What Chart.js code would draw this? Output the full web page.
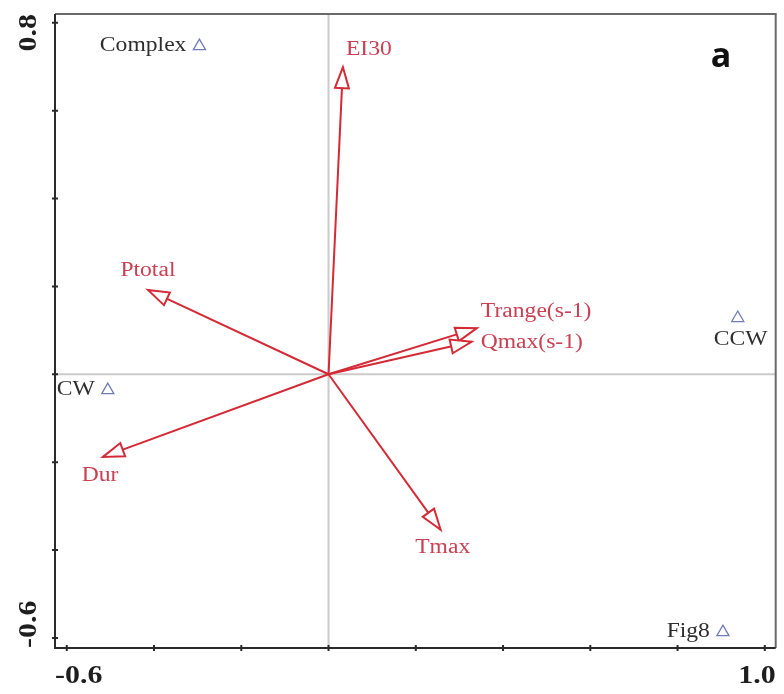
<!DOCTYPE html>
<html>
<head>
<meta charset="utf-8">
<script src="https://cdn.jsdelivr.net/npm/chart.js@4/dist/chart.umd.min.js"></script>
<style>
  html, body { margin: 0; padding: 0; background: #fff; }
  #wrap { width: 784px; height: 694px; position: relative; }
</style>
</head>
<body>
<div id="wrap"><canvas id="biplot"></canvas></div>
<script>
// Environmental variables (arrows)
const varNames = ['EI30', 'Ptotal', 'Trange(s-1)', 'Qmax(s-1)', 'Dur', 'Tmax'];
const varX = [0.033, -0.414, 0.340, 0.328, -0.517, 0.257];
const varY = [0.699, 0.192, 0.105, 0.074, -0.188, -0.354];

// Sample points (triangles)
const siteNames = ['Complex', 'CW', 'CCW', 'Fig8'];
const siteX = [-0.296, -0.506, 0.938, 0.904];
const siteY = [0.747, -0.036, 0.128, -0.587];

// Axis ticks
const xTicks = [-0.6, -0.4, -0.2, 0, 0.2, 0.4, 0.6, 0.8, 1.0];
const xTickLabels = ['-0.6', '', '', '', '', '', '', '', '1.0'];
const yTicks = [-0.6, -0.4, -0.2, 0, 0.2, 0.4, 0.6, 0.8];
const yTickLabels = ['-0.6', '', '', '', '', '', '', '0.8'];

const panelLetter = 'a';

// label placement relative to the marker (pixels) - layout only
const varLabelPos = [
    { dx: 3, dy: -17, align: 'left' },
    { dx: 0, dy: -19, align: 'center' },
    { dx: 4, dy: -16, align: 'left' },
    { dx: 9, dy: 1, align: 'left' },
    { dx: -3, dy: 19, align: 'center' },
    { dx: 2, dy: 18, align: 'center' }
];
const siteLabelPos = [
    { dx: -13, dy: 0, align: 'right' },
    { dx: -13, dy: 0, align: 'right' },
    { dx: 3, dy: 22, align: 'center' },
    { dx: -13, dy: 0, align: 'right' }
];

const ARROW = '#d42a36';
const VARTEXT = '#c94153';
const SITE = '#6f7cb4';
const SERIF = '"Liberation Serif", "DejaVu Serif", serif';
const STRETCH = 1.18;

function drawText(ctx, text, x, y, align, stretch, rot) {
    ctx.save();
    ctx.translate(x, y);
    if (rot) ctx.rotate(rot);
    ctx.scale(stretch, 1);
    ctx.textAlign = align;
    ctx.textBaseline = 'middle';
    ctx.fillText(text, 0, 0);
    ctx.restore();
}

const datasets = [];
varNames.forEach((name, i) => {
    datasets.push({
        label: name,
        data: [{ x: 0, y: 0 }, { x: varX[i], y: varY[i] }],
        showLine: true,
        borderColor: ARROW,
        borderWidth: 2,
        pointRadius: 0,
        fill: false
    });
});
datasets.push({
    label: 'sites',
    data: siteX.map((x, i) => ({ x: x, y: siteY[i] })),
    showLine: false,
    pointStyle: 'triangle',
    pointRadius: 7,
    borderWidth: 1.3,
    borderColor: SITE,
    backgroundColor: '#fff'
});

const biplotPlugin = {
    id: 'biplot',
    beforeDatasetsDraw(chart) {
        const ctx = chart.ctx;
        const a = chart.chartArea;
        const xs = chart.scales.x, ys = chart.scales.y;
        const x0 = xs.getPixelForValue(0), y0 = ys.getPixelForValue(0);
        ctx.save();
        ctx.strokeStyle = '#cbcbcb';
        ctx.lineWidth = 2;
        ctx.beginPath();
        ctx.moveTo(x0, a.top); ctx.lineTo(x0, a.bottom);
        ctx.moveTo(a.left, y0); ctx.lineTo(a.right, y0);
        ctx.stroke();
        ctx.restore();
    },
    afterDatasetsDraw(chart) {
        const ctx = chart.ctx;
        const xs = chart.scales.x, ys = chart.scales.y;
        const ox = xs.getPixelForValue(0), oy = ys.getPixelForValue(0);

        // arrow heads + variable labels
        varNames.forEach((name, i) => {
            const tx = xs.getPixelForValue(varX[i]);
            const ty = ys.getPixelForValue(varY[i]);
            const len = Math.hypot(tx - ox, ty - oy);
            const ux = (tx - ox) / len, uy = (ty - oy) / len;
            const L = 21, W = 7;
            const bx = tx - ux * L, by = ty - uy * L;
            ctx.save();
            ctx.beginPath();
            ctx.moveTo(tx, ty);
            ctx.lineTo(bx - uy * W, by + ux * W);
            ctx.lineTo(bx + uy * W, by - ux * W);
            ctx.closePath();
            ctx.fillStyle = '#fff';
            ctx.fill();
            ctx.strokeStyle = ARROW;
            ctx.lineWidth = 2;
            ctx.lineJoin = 'miter';
            ctx.stroke();
            ctx.fillStyle = VARTEXT;
            ctx.font = '20px ' + SERIF;
            const p = varLabelPos[i];
            drawText(ctx, name, tx + p.dx, ty + p.dy, p.align, STRETCH);
            ctx.restore();
        });

        // site labels
        siteNames.forEach((name, i) => {
            const px = xs.getPixelForValue(siteX[i]);
            const py = ys.getPixelForValue(siteY[i]);
            const p = siteLabelPos[i];
            ctx.save();
            ctx.fillStyle = '#2e2e2e';
            ctx.font = '20px ' + SERIF;
            drawText(ctx, name, px + p.dx, py + p.dy, p.align, STRETCH);
            ctx.restore();
        });
    },
    afterDraw(chart) {
        const ctx = chart.ctx;
        const a = chart.chartArea;
        const xs = chart.scales.x, ys = chart.scales.y;
        ctx.save();
        // frame
        ctx.lineWidth = 2;
        ctx.strokeStyle = '#6a6a6a';
        ctx.beginPath();
        ctx.moveTo(a.left, a.top); ctx.lineTo(a.right, a.top); ctx.lineTo(a.right, a.bottom);
        ctx.stroke();
        ctx.strokeStyle = '#2a2a2a';
        ctx.beginPath();
        ctx.moveTo(a.left, a.top); ctx.lineTo(a.left, a.bottom); ctx.lineTo(a.right, a.bottom);
        ctx.stroke();

        // tick marks
        ctx.lineWidth = 2;
        ctx.beginPath();
        xTicks.forEach(v => {
            const px = xs.getPixelForValue(v);
            ctx.moveTo(px, a.bottom - 3); ctx.lineTo(px, a.bottom + 3);
        });
        yTicks.forEach(v => {
            const py = ys.getPixelForValue(v);
            ctx.moveTo(a.left - 3, py); ctx.lineTo(a.left + 3, py);
        });
        ctx.stroke();

        // tick labels (kept inside the frame span)
        ctx.fillStyle = '#1e1e1e';
        ctx.font = 'bold 26px ' + SERIF;
        const TS = 1.15;
        xTicks.forEach((v, i) => {
            const t = xTickLabels[i];
            if (!t) return;
            const w = ctx.measureText(t).width * TS;
            let cx = xs.getPixelForValue(v);
            cx = Math.max(a.left + w / 2, Math.min(a.right - w / 2, cx));
            drawText(ctx, t, cx, a.bottom + 28, 'center', TS);
        });
        yTicks.forEach((v, i) => {
            const t = yTickLabels[i];
            if (!t) return;
            const w = ctx.measureText(t).width * TS;
            let cy = ys.getPixelForValue(v);
            cy = Math.max(a.top + w / 2, Math.min(a.bottom - w / 2, cy));
            drawText(ctx, t, a.left - 26, cy, 'center', TS, -Math.PI / 2);
        });

        // panel letter
        ctx.fillStyle = '#111';
        ctx.font = 'bold 34px "Open Sans", "DejaVu Sans", sans-serif';
        ctx.textAlign = 'center';
        ctx.textBaseline = 'middle';
        ctx.fillText(panelLetter, 721, 57);
        ctx.restore();
    }
};

new Chart(document.getElementById('biplot'), {
    type: 'scatter',
    data: { datasets: datasets },
    options: {
        responsive: true,
        maintainAspectRatio: false,
        animation: false,
        layout: { padding: { left: 55, right: 6, top: 14, bottom: 46 } },
        scales: {
            x: { type: 'linear', min: -0.627, max: 1.025, display: false },
            y: { type: 'linear', min: -0.623, max: 0.82, display: false }
        },
        plugins: {
            legend: { display: false },
            tooltip: { enabled: false }
        }
    },
    plugins: [biplotPlugin]
});
</script>
</body>
</html>
